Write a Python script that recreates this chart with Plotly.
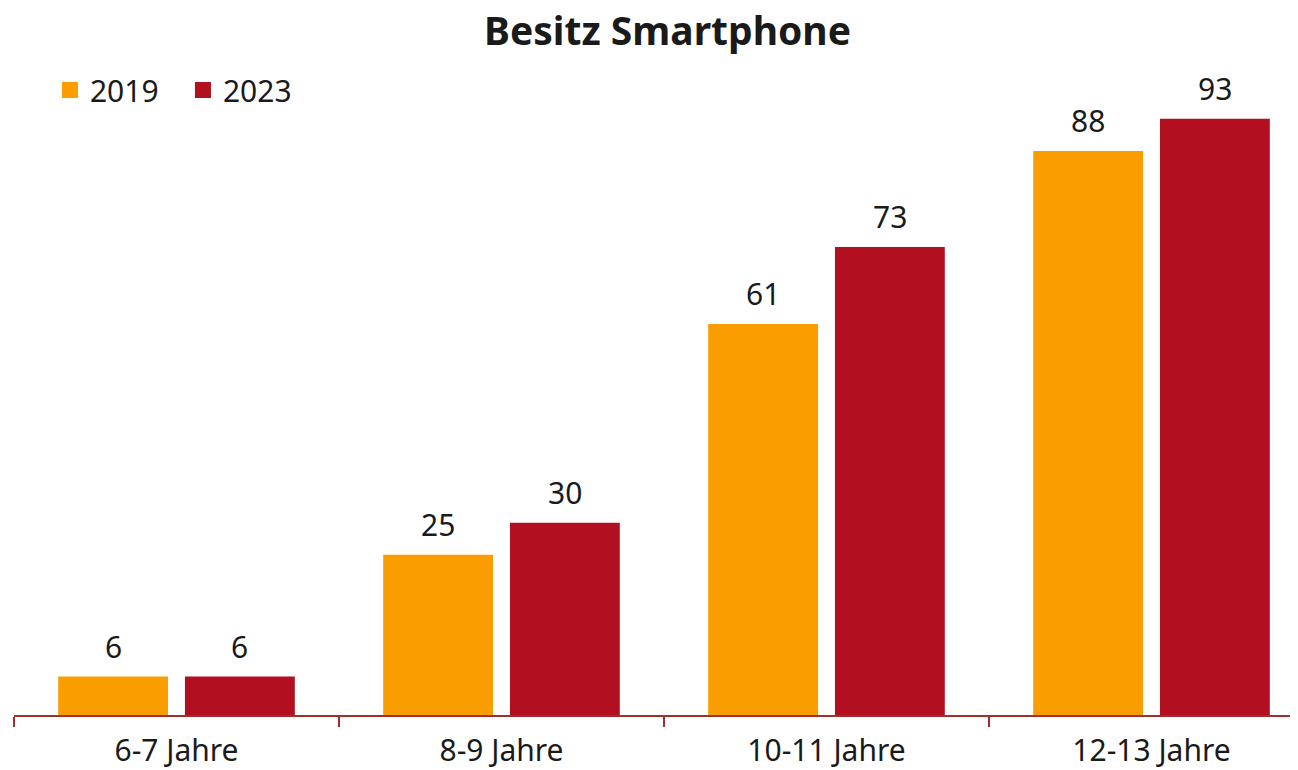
import plotly.graph_objects as go

categories = ["6-7 Jahre", "8-9 Jahre", "10-11 Jahre", "12-13 Jahre"]
years = ["2019", "2023"]
values_2019 = [6, 25, 61, 88]
values_2023 = [6, 30, 73, 93]
colors = ["#F99D00", "#B20F20"]
title_text = "Besitz Smartphone"

FONT = "Noto Sans"
TXT = "#1a1a1a"
FS = 30
bar_width = 0.338
centers = [-0.195, 0.195]

# page has an 8px body margin -> figure occupies the window from (8, 8)
W, H = 1290, 762

fig = go.Figure()
series = [values_2019, values_2023]
for name, vals, col, c in zip(years, series, colors, centers):
    fig.add_trace(go.Bar(
        x=categories, y=vals, name=name, marker_color=col, marker_line_width=0,
        width=bar_width, offset=c - bar_width / 2, showlegend=False,
    ))
    fig.add_trace(go.Scatter(
        x=[None], y=[None], mode="markers", name=name,
        marker=dict(symbol="square", size=17, color=col),
    ))
    for i, v in enumerate(vals):
        fig.add_annotation(
            x=i + c, y=v, xref="x", yref="y", text=str(v), showarrow=False,
            yanchor="bottom", yshift=8, font=dict(family=FONT, size=FS, color=TXT),
        )

fig.update_layout(
    width=W, height=H,
    margin=dict(l=6, r=0, t=52, b=55, autoexpand=False),
    paper_bgcolor="white", plot_bgcolor="white",
    barmode="overlay",
    font=dict(family=FONT, size=FS, color=TXT),
    title=dict(text="<b>" + title_text + "</b>", x=659.5 / W, xref="container", xanchor="center",
               y=1 - 23 / H, yref="container", yanchor="middle",
               font=dict(family=FONT, size=39, color=TXT)),
    legend=dict(orientation="h", x=0.028, xanchor="left", y=1 - 82 / H, yref="container",
                yanchor="middle", font=dict(family=FONT, size=FS, color=TXT),
                bgcolor="rgba(0,0,0,0)", entrywidth=88, entrywidthmode="pixels"),
    showlegend=True,
)
fig.update_xaxes(
    type="category", range=[-0.5, -0.5 + 1284 / 325], showgrid=False,
    showline=True, linecolor="#A0302A", linewidth=2,
    ticks="outside", tickson="boundaries", ticklen=10, tickcolor="#A0302A", tickwidth=2,
    ticklabelstandoff=8,
    tickfont=dict(family=FONT, size=FS, color=TXT),
)
fig.update_yaxes(range=[0, 655 / 6.41], visible=False, showgrid=False, zeroline=False)

fig.write_html("out.html")
